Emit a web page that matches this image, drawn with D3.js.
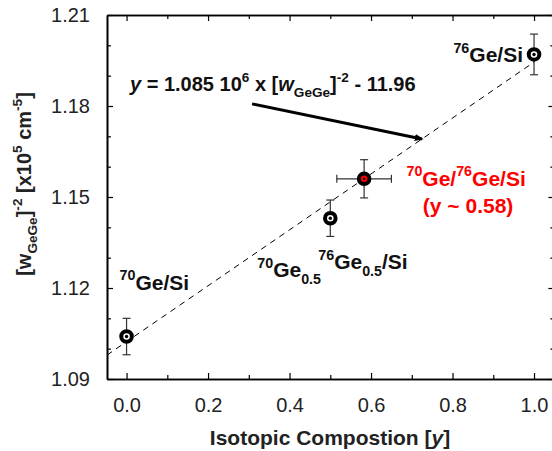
<!DOCTYPE html>
<html>
<head>
<meta charset="utf-8">
<script src="https://cdn.jsdelivr.net/npm/d3@7"></script>
<style>
  body { margin: 0; background: #fff; }
  text { font-family: "Liberation Sans", Arial, sans-serif; white-space: pre; }
</style>
</head>
<body>
<svg id="chart" width="552" height="451"></svg>
<script>
// measured points
const composition = [0.0, 0.5, 0.583, 1.0];
const wInv2 = [1.104, 1.143, 1.156, 1.197];
const yErr = [0.006, 0.006, 0.0063, 0.0067];
const xErr = [0, 0, 0.067, 0];
const highlight = [false, false, true, false];

const xTicks = [0.0, 0.2, 0.4, 0.6, 0.8, 1.0];
const xMinor = [0.1, 0.3, 0.5, 0.7, 0.9];
const yTicks = [1.09, 1.12, 1.15, 1.18, 1.21];
const yMinor = [1.10, 1.11, 1.13, 1.14, 1.16, 1.17, 1.19, 1.20];

// linear fit  y = a * [w]^-2 - b
const fitA = 1.085e6, fitB = 11.96;
const fitRange = [-0.048, 1.0];
// arrow: from text to the fit line
const arrowFrom = [0.308, 1.1807];
const arrowToX = 0.725;

const svg = d3.select('#chart');
const x = d3.scaleLinear().domain([-0.048, 1.05]).range([107, 554.4]);
const y = d3.scaleLinear().domain([1.09, 1.21]).range([379, 15]);
const fit = v => (v + fitB) / fitA * 1e5;

function richText(el, parts, size) {
    let shift = 0;
    parts.forEach(([t, kind]) => {
        const small = kind === 'sup' || kind === 'sub';
        const target = kind === 'sup' ? -size * 0.45 : kind === 'sub' ? size * 0.32 : 0;
        el.append('tspan')
            .attr('dy', target - shift)
            .style('font-size', (small ? size * 0.68 : size) + 'px')
            .style('font-style', kind === 'i' ? 'italic' : null)
            .text(t);
        shift = target;
    });
}

// axes, ticks on all four sides pointing inward
function styleAxis(g) {
    g.select('.domain').attr('stroke', '#000').attr('stroke-width', 1.6);
    g.selectAll('.tick line').attr('stroke', '#000').attr('stroke-width', 1.2);
    g.selectAll('.tick text').style('font-size', '20px').attr('fill', '#222');
}
const [x0, x1] = x.range(), [y0, y1] = y.range();

svg.append('g').attr('transform', `translate(0,${y0})`)
    .call(d3.axisBottom(x).tickValues(xTicks).tickFormat(d3.format('.1f'))
        .tickSizeInner(-6).tickSizeOuter(0).tickPadding(19)).call(styleAxis);
svg.append('g').attr('transform', `translate(0,${y0})`)
    .call(d3.axisBottom(x).tickValues(xMinor).tickFormat('').tickSizeInner(-4).tickSizeOuter(0)).call(styleAxis);
svg.append('g').attr('transform', `translate(0,${y1})`)
    .call(d3.axisTop(x).tickValues(xTicks).tickFormat('').tickSizeInner(-6).tickSizeOuter(0)).call(styleAxis);
svg.append('g').attr('transform', `translate(0,${y1})`)
    .call(d3.axisTop(x).tickValues(xMinor).tickFormat('').tickSizeInner(-4).tickSizeOuter(0)).call(styleAxis);

svg.append('g').attr('transform', `translate(${x0},0)`)
    .call(d3.axisLeft(y).tickValues(yTicks).tickFormat(d3.format('.2f'))
        .tickSizeInner(-6).tickSizeOuter(0).tickPadding(17)).call(styleAxis);
svg.append('g').attr('transform', `translate(${x0},0)`)
    .call(d3.axisLeft(y).tickValues(yMinor).tickFormat('').tickSizeInner(-4).tickSizeOuter(0)).call(styleAxis);
svg.append('g').attr('transform', `translate(${x1},0)`)
    .call(d3.axisRight(y).tickValues(yTicks).tickFormat('').tickSizeInner(-6).tickSizeOuter(0)).call(styleAxis);
svg.append('g').attr('transform', `translate(${x1},0)`)
    .call(d3.axisRight(y).tickValues(yMinor).tickFormat('').tickSizeInner(-4).tickSizeOuter(0)).call(styleAxis);

// axis titles
const xTitle = svg.append('text')
    .attr('x', 330).attr('y', 445).attr('text-anchor', 'middle')
    .style('font-weight', 'bold').style('font-size', '21px').attr('fill', '#222');
richText(xTitle, [['Isotopic Compostion [', ''], ['y', 'i'], [']', '']], 21);

const yTitle = svg.append('text')
    .attr('transform', 'translate(31,184) rotate(-90)').attr('text-anchor', 'middle')
    .style('font-weight', 'bold').style('font-size', '20px').attr('fill', '#222');
richText(yTitle, [['[', ''], ['w', ''], ['GeGe', 'sub'], [']', ''], ['-2', 'sup'], [' [x10', ''],
    ['5', 'sup'], [' cm', ''], ['-5', 'sup'], [']', '']], 20);

// fit line
svg.append('line')
    .attr('x1', x(fitRange[0])).attr('y1', y(fit(fitRange[0])))
    .attr('x2', x(fitRange[1])).attr('y2', y(fit(fitRange[1])))
    .attr('stroke', '#000').attr('stroke-width', 1).attr('stroke-dasharray', '6,5');

// equation + arrow
const eq = svg.append('text').attr('x', 130).attr('y', 91)
    .style('font-weight', 'bold').style('font-size', '20px').attr('fill', '#111');
richText(eq, [['y', 'i'], [' = 1.085 10', ''], ['6', 'sup'], [' x [', ''], ['w', 'i'], ['GeGe', 'sub'],
    [']', ''], ['-2', 'sup'], [' - 11.96', '']], 20);

svg.append('defs').append('marker')
    .attr('id', 'head').attr('viewBox', '0 0 10 10').attr('refX', 8).attr('refY', 5)
    .attr('markerWidth', 3).attr('markerHeight', 3).attr('orient', 'auto')
    .append('path').attr('d', 'M0,1L10,5L0,9Z').attr('fill', '#000');
svg.append('line')
    .attr('x1', x(arrowFrom[0])).attr('y1', y(arrowFrom[1]))
    .attr('x2', x(arrowToX)).attr('y2', y(fit(arrowToX)))
    .attr('stroke', '#000').attr('stroke-width', 3).attr('marker-end', 'url(#head)');

// points with error bars
const pts = composition.map((c, i) => ({ c, v: wInv2[i], ey: yErr[i], ex: xErr[i], hi: highlight[i] }));
const pg = svg.append('g').selectAll('g').data(pts).enter().append('g');
function seg(sel, ax1, ay1, ax2, ay2) {
    sel.append('line').attr('x1', ax1).attr('y1', ay1).attr('x2', ax2).attr('y2', ay2)
        .attr('stroke', '#333').attr('stroke-width', 1.2);
}
pg.each(function (d) {
    const g = d3.select(this);
    const cx = x(d.c), cy = y(d.v);
    const top = y(d.v + d.ey), bot = y(d.v - d.ey);
    seg(g, cx, top, cx, bot);
    seg(g, cx - 4, top, cx + 4, top);
    seg(g, cx - 4, bot, cx + 4, bot);
    if (d.ex > 0) {
        const l = x(d.c - d.ex), r = x(d.c + d.ex);
        seg(g, l, cy, r, cy);
        seg(g, l, cy - 4, l, cy + 4);
        seg(g, r, cy - 4, r, cy + 4);
    }
    g.append('circle').attr('cx', cx).attr('cy', cy).attr('r', 5.3)
        .attr('fill', d.hi ? '#f00' : '#fff').attr('stroke', '#000').attr('stroke-width', 4);
    g.append('circle').attr('cx', cx).attr('cy', cy).attr('r', d.hi ? 1.2 : 1.7).attr('fill', '#000');
});

// point labels
function label(px, py, dx, dy, parts, color, anchor) {
    const t = svg.append('text').attr('x', x(px) + dx).attr('y', y(py) + dy)
        .attr('text-anchor', anchor || 'start')
        .style('font-weight', 'bold').style('font-size', '21px').attr('fill', color);
    richText(t, parts, 21);
    return t;
}
label(composition[0], wInv2[0], -7, -47, [['70', 'sup'], ['Ge/Si', '']], '#111');
label(composition[1], wInv2[1], -73, 59, [['70', 'sup'], ['Ge', ''], ['0.5', 'sub']], '#111');
label(composition[1], wInv2[1], -12, 51, [['76', 'sup'], ['Ge', ''], ['0.5', 'sub'], ['/Si', '']], '#111');
label(composition[3], wInv2[3], -11, 8, [['76', 'sup'], ['Ge/Si', '']], '#111', 'end');
label(composition[2], wInv2[2], 102, 7, [['70', 'sup'], ['Ge/', ''], ['76', 'sup'], ['Ge/Si', '']], '#f00', 'middle');
label(composition[2], wInv2[2], 104, 34, [['(y ~ 0.58)', '']], '#f00', 'middle');
</script>
</body>
</html>
